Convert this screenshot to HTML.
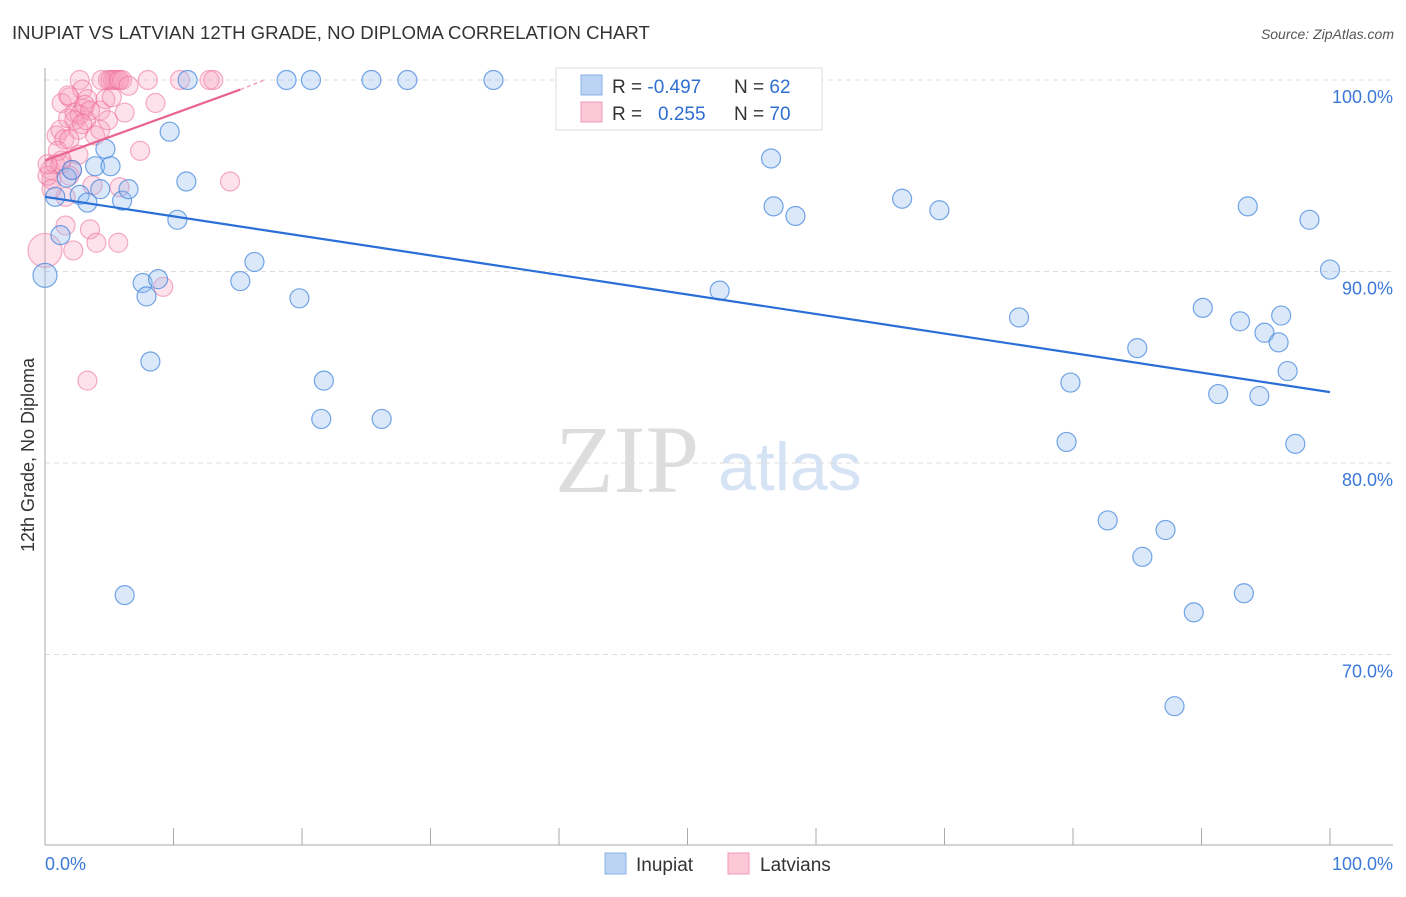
<!DOCTYPE html>
<html><head><meta charset="utf-8"><style>
body{margin:0;background:#fff;font-family:"Liberation Sans",sans-serif}
svg text{font-family:"Liberation Sans",sans-serif}
</style></head><body>
<svg id="chart" width="1406" height="892" viewBox="0 0 1406 892">
<text x="12" y="39" font-size="18.6" fill="#333">INUPIAT VS LATVIAN 12TH GRADE, NO DIPLOMA CORRELATION CHART</text>
<text x="1394" y="39" font-size="14" fill="#555" font-style="italic" text-anchor="end">Source: ZipAtlas.com</text>
<text x="555" y="492" font-size="96" fill="#ddd" font-family="Liberation Serif" style="font-family:'Liberation Serif',serif">ZIP</text>
<text x="718" y="490" font-size="68" fill="#d6e3f5">atlas</text>
<g id="grid"></g>
<g id="axes"></g>
<g id="pts"></g>
<g id="trends"></g>
<text transform="translate(34,455) rotate(-90)" font-size="18" fill="#333" text-anchor="middle">12th Grade, No Diploma</text>
<g>
<rect x="556" y="68" width="266" height="62" fill="#fff" stroke="#ddd"/>
<rect x="581" y="75" width="21" height="20" fill="#bcd4f4" stroke="#8ab0e8"/>
<rect x="581" y="102" width="21" height="20" fill="#fcc8d8" stroke="#f09ab5"/>
<text x="612" y="93" font-size="19" fill="#333">R = <tspan fill="#2f6fd1">-0.497</tspan></text>
<text x="734" y="93" font-size="19" fill="#333">N = <tspan fill="#2f6fd1">62</tspan></text>
<text x="612" y="120" font-size="19" fill="#333">R = <tspan fill="#2f6fd1" x="658">0.255</tspan></text>
<text x="734" y="120" font-size="19" fill="#333">N = <tspan fill="#2f6fd1">70</tspan></text>
</g>
<g>
<rect x="605" y="853" width="21" height="21" fill="#bcd4f4" stroke="#8ab0e8"/>
<text x="636" y="871" font-size="19" fill="#333">Inupiat</text>
<rect x="728" y="853" width="21" height="21" fill="#fcc8d8" stroke="#f09ab5"/>
<text x="760" y="871" font-size="19" fill="#333">Latvians</text>
</g>
</svg>
<script>
const xTicks=[0,10,20,30,40,50,60,70,80,90,100];
const yTicks=[100,90,80,70];
const yTickLabels=["100.0%","90.0%","80.0%","70.0%"];
const blueX=[0,0.8,1.2,1.7,2.1,2.7,3.3,3.9,4.3,4.7,5.1,6.0,6.5,6.2,7.6,7.9,8.2,8.8,9.7,10.3,11.0,11.1,15.2,16.3,18.8,19.8,20.7,21.7,21.5,25.4,26.2,28.2,34.9,47.1,52.5,56.5,56.7,58.4,66.7,69.6,75.8,79.5,79.8,82.7,85.0,85.4,87.2,87.9,89.4,90.1,91.3,93.0,93.3,93.6,94.5,94.9,96.0,96.2,96.7,97.3,98.4,100];
const blueY=[89.8,93.9,91.9,94.9,95.3,94.0,93.6,95.5,94.3,96.4,95.5,93.7,94.3,73.1,89.4,88.7,85.3,89.6,97.3,92.7,94.7,100,89.5,90.5,100,88.6,100,84.3,82.3,100,82.3,100,100,100,89.0,95.9,93.4,92.9,93.8,93.2,87.6,81.1,84.2,77.0,86.0,75.1,76.5,67.3,72.2,88.1,83.6,87.4,73.2,93.4,83.5,86.8,86.3,87.7,84.8,81.0,92.7,90.1];
const pinkX=[0,0.4,0.5,0.8,0.9,1.2,1.3,1.5,1.6,1.6,1.8,1.9,2.1,2.2,2.3,2.6,2.7,2.9,3.0,3.2,3.3,3.5,3.7,4.0,4.3,4.4,4.7,4.9,5.1,5.3,5.5,5.7,5.8,6.0,6.5,5.7,5.8,6.2,7.4,8.0,8.6,9.2,10.5,12.8,13.1,14.4,3.3,2.7,3.9,1.3,1.0,0.2,0.5,1.9,2.3,3.1,3.5,4.3,2.6,1.2,1.9,0.2,2.9,1.8,4.9,5.2];
const pinkY=[91.1,95.3,94.8,95.6,97.1,97.4,98.8,96.9,93.9,92.4,98.0,99.1,95.3,91.1,98.3,97.4,100,99.5,98.5,97.9,99.0,92.2,94.5,91.5,98.4,100,99.0,100,100,100,100,100,100,100,99.7,91.5,94.4,98.3,96.3,100,98.8,89.2,100,100,100,94.7,84.3,98.2,97.1,95.8,96.3,95.0,94.3,96.9,97.9,98.7,98.4,97.4,96.1,95.6,95.0,95.6,97.7,99.2,97.9,99.1];
const blueTrend=[[0,93.9],[100,83.7]];
const pinkTrend=[[0,95.8],[15.2,99.5]];
const pinkTrendExt=[[15.2,99.5],[17.1,100]];
const NS="http://www.w3.org/2000/svg";
const X0=45,X1=1330,Y100=80,PXPER=19.15;
const sx=v=>X0+(X1-X0)*v/100;
const sy=v=>Y100+(100-v)*PXPER;
function mk(tag,attrs,parent){const e=document.createElementNS(NS,tag);for(const k in attrs)e.setAttribute(k,attrs[k]);parent.appendChild(e);return e;}
const grid=document.getElementById('grid'),axes=document.getElementById('axes'),pts=document.getElementById('pts'),tr=document.getElementById('trends');
yTicks.forEach((t,i)=>{
 const l=mk('line',{x1:45,x2:1393,y1:sy(t),y2:sy(t),stroke:'#ddd','stroke-dasharray':'5,4'},grid);
 
 
 const tx=mk('text',{x:1393,y:sy(t)+23,'font-size':18,fill:'#3b78d8','text-anchor':'end'},axes);
 tx.textContent=yTickLabels[i];
 
 
});
const ax=mk('line',{x1:45,x2:1393,y1:845,y2:845,stroke:'#aaa'},axes);


const ay=mk('line',{x1:45,x2:45,y1:68,y2:845,stroke:'#aaa'},axes);


xTicks.forEach(t=>{
 const l=mk('line',{x1:sx(t),x2:sx(t),y1:828,y2:845,stroke:'#aaa'},axes);
 
 
});
const xl0=mk('text',{x:45,y:870,'font-size':18,fill:'#3b78d8'},axes);xl0.textContent='0.0%';


const xl1=mk('text',{x:1393,y:870,'font-size':18,fill:'#3b78d8','text-anchor':'end'},axes);xl1.textContent='100.0%';


pinkX.forEach((x,i)=>{
 const c=mk('circle',{cx:sx(x),cy:sy(pinkY[i]),r:i===0?17:9.5,fill:'rgba(248,160,190,0.3)',stroke:'rgba(236,110,150,0.55)','stroke-width':1.2},pts);
 
 
});
blueX.forEach((x,i)=>{
 const c=mk('circle',{cx:sx(x),cy:sy(blueY[i]),r:i===0?12:9.5,fill:'rgba(150,190,240,0.35)',stroke:'rgba(60,130,220,0.7)','stroke-width':1.2},pts);
 
 
});
const bt=mk('line',{x1:sx(blueTrend[0][0]),y1:sy(blueTrend[0][1]),x2:sx(blueTrend[1][0]),y2:sy(blueTrend[1][1]),stroke:'#2a6fd6','stroke-width':2.2},tr);


const pt=mk('line',{x1:sx(pinkTrend[0][0]),y1:sy(pinkTrend[0][1]),x2:sx(pinkTrend[1][0]),y2:sy(pinkTrend[1][1]),stroke:'#e8648f','stroke-width':2.2},tr);


const pe=mk('line',{x1:sx(pinkTrendExt[0][0]),y1:sy(pinkTrendExt[0][1]),x2:sx(pinkTrendExt[1][0]),y2:sy(pinkTrendExt[1][1]),stroke:'#f2a5bd','stroke-width':1.5,'stroke-dasharray':'4,3'},tr);


</script>
</body></html>
